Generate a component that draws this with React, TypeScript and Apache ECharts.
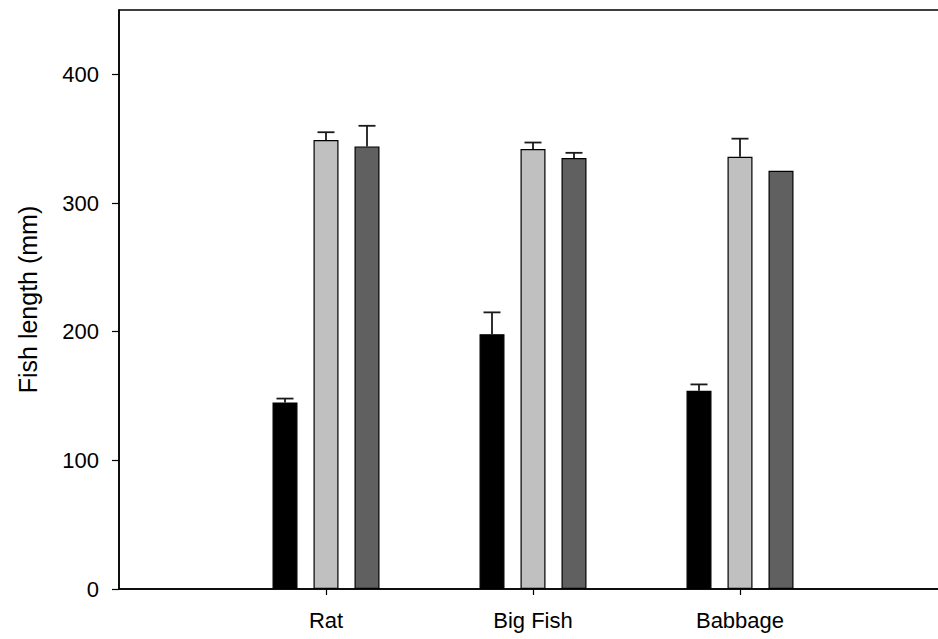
import React, { useEffect, useRef } from "react";
import * as echarts from "echarts";

const categories = ["Rat", "Big Fish", "Babbage"];
const positions = [1, 2, 3];
const yTicks = [0, 100, 200, 300, 400];

const blackMeans = [145, 198, 154];
const blackErrs = [3, 17, 5];
const lightMeans = [349, 342, 336];
const lightErrs = [6, 5, 14];
const darkMeans = [344, 335, 325];
const darkErrs = [16, 4, 0];

const BAR_W = 25;
const BAR_STEP = 41;

const seriesDefs = [
  { name: "Group A", means: blackMeans, errs: blackErrs, color: "#000000", offset: -1 },
  { name: "Group B", means: lightMeans, errs: lightErrs, color: "#c0c0c0", offset: 0 },
  { name: "Group C", means: darkMeans, errs: darkErrs, color: "#606060", offset: 1 },
];

export default function App() {
  const ref = useRef<HTMLDivElement>(null);
  useEffect(() => {
    if (!ref.current) return;
    const chart = echarts.init(ref.current, null, { renderer: "svg" });
    const font = "Liberation Sans, Arial, sans-serif";
    const series: any[] = [];
    seriesDefs.forEach((s) => {
      series.push({
        type: "bar",
        name: s.name,
        barWidth: BAR_W,
        barGap: ((BAR_STEP - BAR_W) / BAR_W) * 100 + "%",
        data: positions.map((p, i) => [p, s.means[i]]),
        itemStyle: { color: s.color, borderColor: "#000", borderWidth: 1.2 },
        silent: true,
      });
    });
    seriesDefs.forEach((s) => {
      series.push({
        type: "custom",
        name: s.name + " error",
        silent: true,
        z: 5,
        data: positions.map((p, i) => [p, s.means[i], s.errs[i]]),
        renderItem: (params: any, api: any) => {
          const x = api.value(0);
          const m = api.value(1);
          const e = api.value(2);
          if (!e) return null;
          const p1 = api.coord([x, m]);
          const p2 = api.coord([x, m + e]);
          const cx = p1[0] + s.offset * BAR_STEP;
          const style = { stroke: "#1a1a1a", lineWidth: 1.8 };
          return {
            type: "group",
            children: [
              { type: "line", shape: { x1: cx, y1: p1[1], x2: cx, y2: p2[1] }, style },
              { type: "line", shape: { x1: cx - 8.5, y1: p2[1], x2: cx + 8.5, y2: p2[1] }, style },
            ],
          };
        },
      });
    });
    chart.setOption({
      animation: false,
      grid: {
        left: 119,
        top: 10,
        right: 0,
        bottom: 50,
        show: true,
        borderColor: "#000",
        borderWidth: 1.5,
      },
      xAxis: {
        type: "value",
        min: 0,
        max: 4,
        interval: 1,
        splitLine: { show: false },
        axisLine: { lineStyle: { color: "#000", width: 1.5 } },
        axisTick: { show: true, length: 6, customValues: positions, lineStyle: { color: "#000", width: 1.2 } },
        axisLabel: {
          customValues: positions,
          margin: 20,
          fontFamily: font,
          fontSize: 22,
          color: "#000",
          formatter: (v: number) => {
            const i = positions.indexOf(v);
            return i >= 0 ? categories[i] : "";
          },
        },
      },
      yAxis: {
        type: "value",
        min: 0,
        max: 450,
        interval: 100,
        name: "Fish length (mm)",
        nameLocation: "middle",
        nameGap: 79,
        nameTextStyle: { fontFamily: font, fontSize: 25, color: "#000" },
        splitLine: { show: false },
        axisLine: { show: true, lineStyle: { color: "#000", width: 1.5 } },
        axisTick: { show: true, length: 7, customValues: yTicks, lineStyle: { color: "#000", width: 1.2 } },
        axisLabel: {
          customValues: yTicks,
          margin: 20,
          fontFamily: font,
          fontSize: 22,
          color: "#000",
          formatter: (v: number) => (yTicks.indexOf(v) >= 0 ? String(v) : ""),
        },
      },
      series,
    });
    return () => chart.dispose();
  }, []);
  return (
    <div style={{ position: "fixed", left: 0, top: 0, width: 938, height: 639, overflow: "hidden", background: "#fff" }}>
      <div ref={ref} style={{ width: 947, height: 639 }} />
    </div>
  );
}
